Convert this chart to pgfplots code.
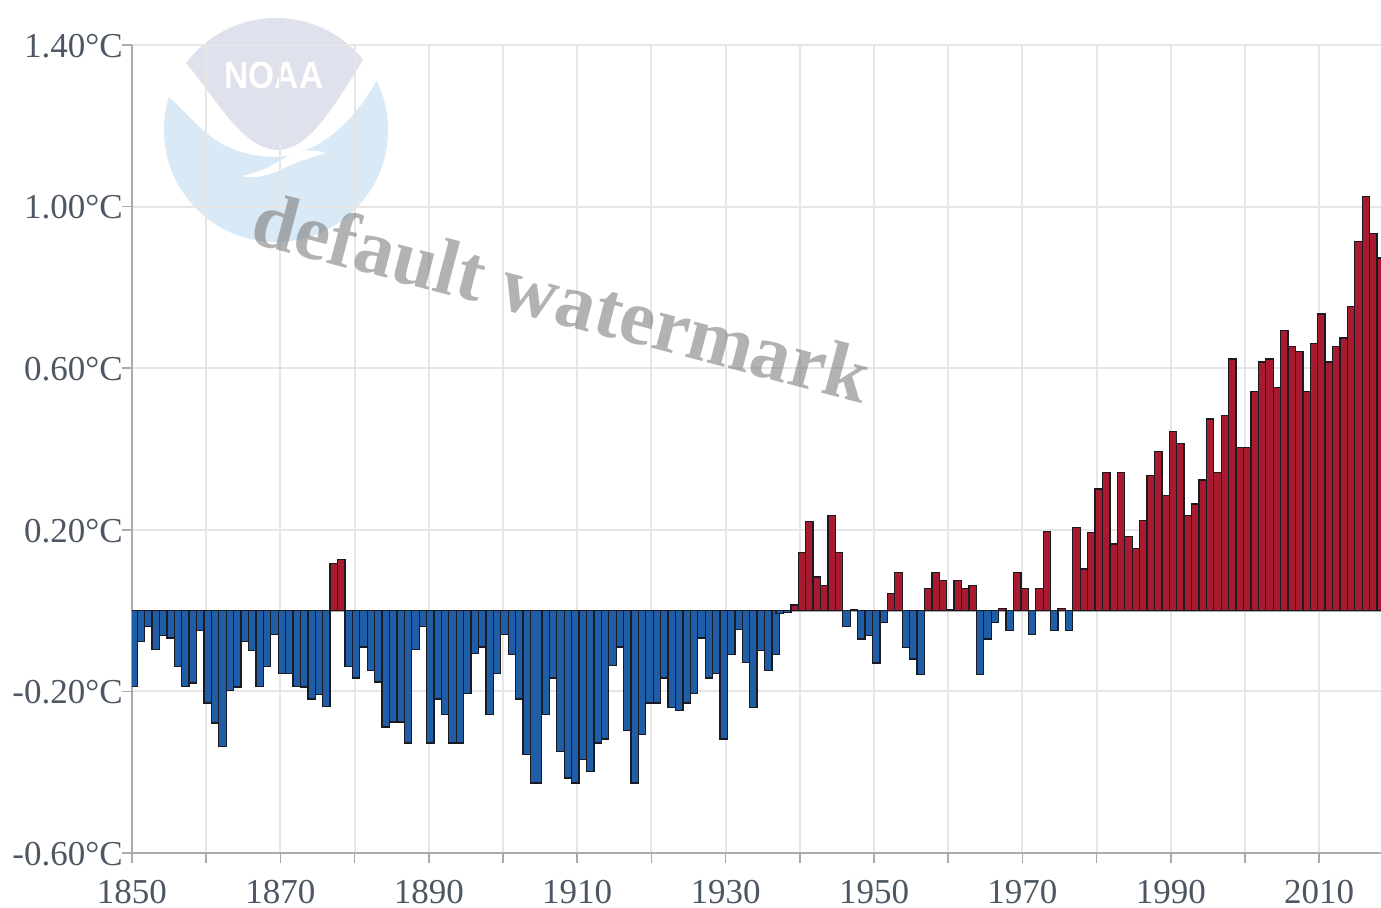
\documentclass[border=0pt]{standalone}
\usepackage{pgfplots}
\pgfplotsset{compat=1.18}
\usepackage{fontspec}
\setmainfont{Liberation Serif}
\newfontfamily\logofont{Liberation Sans}
\definecolor{gridc}{HTML}{E6E6E6}
\definecolor{axisc}{HTML}{ABABAB}
\definecolor{labelc}{HTML}{4D5763}
\definecolor{blueb}{HTML}{1F5EA6}
\definecolor{redb}{HTML}{A81A30}
\definecolor{edgec}{HTML}{1A1A22}
\definecolor{logoblue}{HTML}{D9E9F5}
\definecolor{logolav}{HTML}{DFE1EC}
\pgfplotsset{
  bars/.style={ybar, bar width=3.71pt, line width=0.65pt, draw=edgec},
  cold/.style={bars, fill=blueb},
  warm/.style={bars, fill=redb},
}
\begin{document}
\begin{tikzpicture}
\useasboundingbox (0,0) rectangle (690.5pt,453.5pt);
% NOAA logo, behind the grid
\begin{scope}[shift={(0pt,453.5pt)},x=0.5pt,y=-0.5pt]
  \begin{scope}
    \clip (276,130) circle [radius=112];
    \fill[logoblue] (150,85) -- (170,98) .. controls (200,125) and (215,155) .. (275,157)
      .. controls (320,155) and (355,120) .. (377,80) -- (400,70) -- (400,260) -- (150,260) -- cycle;
    \fill[logolav] (186,63) .. controls (205,85) and (225,118) .. (245,135)
      .. controls (258,146) and (268,150) .. (280,150)
      .. controls (310,148) and (335,105) .. (363,60) -- (370,0) -- (180,0) -- cycle;
    \fill[white] (242,176) .. controls (270,170) and (280,160) .. (295,152)
      .. controls (305,150) and (318,150) .. (326,153)
      .. controls (310,158) and (295,162) .. (280,170)
      .. controls (268,176) and (252,179) .. (242,176) -- cycle;
  \end{scope}
  \node[text=white, font=\logofont\bfseries\fontsize{19}{19}\selectfont, xscale=0.88, inner sep=0pt] at (274,75) {NOAA};
\end{scope}
\begin{axis}[
  at={(66pt,27pt)}, anchor=south west,
  scale only axis, width=624.5pt, height=404pt,
  xmin=1850, xmax=2018.33, ymin=-0.6, ymax=1.4,
  axis x line*=bottom, axis y line*=left,
  axis line style={-, draw=axisc, line width=1pt},
  xtick={1850,1860,...,2010},
  xticklabels={1850,,1870,,1890,,1910,,1930,,1950,,1970,,1990,,2010},
  ytick={-0.6,-0.2,0.2,0.6,1.0,1.4},
  yticklabels={-0.60°C,-0.20°C,0.20°C,0.60°C,1.00°C,1.40°C},
  extra y ticks={0}, extra y tick labels={},
  extra y tick style={tick style={draw=none}, major grid style={draw=axisc, line width=1pt}},
  grid=major, major grid style={draw=gridc, line width=1pt},
  tick align=outside, major tick length=5pt,
  tick style={draw=axisc, line width=0.8pt},
  tick label style={font=\fontsize{17.5}{20}\selectfont, text=labelc},
  xticklabel style={inner ysep=0pt, yshift=-8.6pt},
  yticklabel style={xshift=0.5pt, yshift=-0.5pt, inner xsep=0pt},
  clip=true,
]
% 1850-1903
\addplot[cold, bar shift=0.74pt] table {
1850 -0.187
1851 -0.076
1852 -0.040
1853 -0.097
1854 -0.062
1855 -0.068
1856 -0.138
1857 -0.187
1858 -0.179
1859 -0.049
1860 -0.229
1861 -0.278
1862 -0.337
1863 -0.197
1864 -0.189
1865 -0.076
1866 -0.098
1867 -0.187
1868 -0.138
1869 -0.059
1870 -0.156
1871 -0.156
1872 -0.187
1873 -0.189
1874 -0.219
1875 -0.208
1876 -0.238
};
\addplot[warm, bar shift=0.74pt] table {
1877 0.116
1878 0.126
};
\addplot[cold, bar shift=0.74pt] table {
1879 -0.138
1880 -0.167
1881 -0.090
1882 -0.148
1883 -0.177
1884 -0.288
1885 -0.276
1886 -0.276
1887 -0.328
1888 -0.097
1889 -0.040
1890 -0.328
1891 -0.219
1892 -0.257
1893 -0.328
1894 -0.328
1895 -0.205
1896 -0.106
1897 -0.090
1898 -0.257
1899 -0.156
1900 -0.059
1901 -0.109
1902 -0.219
1903 -0.356
};
\addplot[cold, bar shift=1.6pt, bar width=5.6pt] table {
1904 -0.427
};
\addplot[cold, bar shift=2.78pt] table {
1905 -0.257
1906 -0.167
1907 -0.348
1908 -0.414
1909 -0.427
1910 -0.369
1911 -0.398
1912 -0.328
1913 -0.318
1914 -0.136
1915 -0.090
1916 -0.296
1917 -0.427
1918 -0.307
1919 -0.229
1920 -0.229
1921 -0.167
1922 -0.239
1923 -0.247
1924 -0.229
1925 -0.205
1926 -0.068
1927 -0.167
1928 -0.156
1929 -0.318
1930 -0.109
1931 -0.047
1932 -0.128
1933 -0.239
1934 -0.098
1935 -0.148
1936 -0.109
};
\addplot[cold, bar shift=1.1pt] table {
1937 -0.008
1938 -0.004
1946 -0.040
1948 -0.070
1949 -0.062
1950 -0.130
1951 -0.029
1954 -0.091
1955 -0.120
1956 -0.158
1964 -0.158
1965 -0.070
1966 -0.029
1968 -0.050
1971 -0.060
1974 -0.050
1976 -0.050
};
\addplot[warm, bar shift=1.1pt] table {
1939 0.014
1940 0.144
1941 0.221
1942 0.083
1943 0.062
1944 0.235
1945 0.144
1947 0.002
1952 0.043
1953 0.095
1957 0.054
1958 0.095
1959 0.074
1960 0.002
1961 0.074
1962 0.054
1963 0.062
1967 0.006
1969 0.095
1970 0.054
1972 0.054
1973 0.196
1975 0.006
1977 0.205
1978 0.103
1979 0.194
1980 0.301
1981 0.342
1982 0.165
1983 0.342
1984 0.183
1985 0.153
1986 0.223
1987 0.334
1988 0.394
1989 0.285
1990 0.444
1991 0.414
1992 0.235
1993 0.264
1994 0.323
1995 0.474
1996 0.342
1997 0.483
1998 0.623
1999 0.404
2000 0.404
2001 0.543
2002 0.615
2003 0.623
2004 0.553
2005 0.693
2006 0.653
2007 0.642
2008 0.543
2009 0.662
2010 0.734
2011 0.615
2012 0.653
2013 0.675
2014 0.752
2015 0.914
2016 1.025
2017 0.934
2018 0.873
};
\end{axis}
\begin{scope}[shift={(0pt,453.5pt)},x=0.5pt,y=-0.5pt]
  \node[text=black!55, opacity=0.55, rotate=-14.8, anchor=base, inner sep=0pt,
        font=\bfseries\fontsize{39.5}{42}\selectfont] at (555,323) {default watermark};
\end{scope}
\end{tikzpicture}
\end{document}
